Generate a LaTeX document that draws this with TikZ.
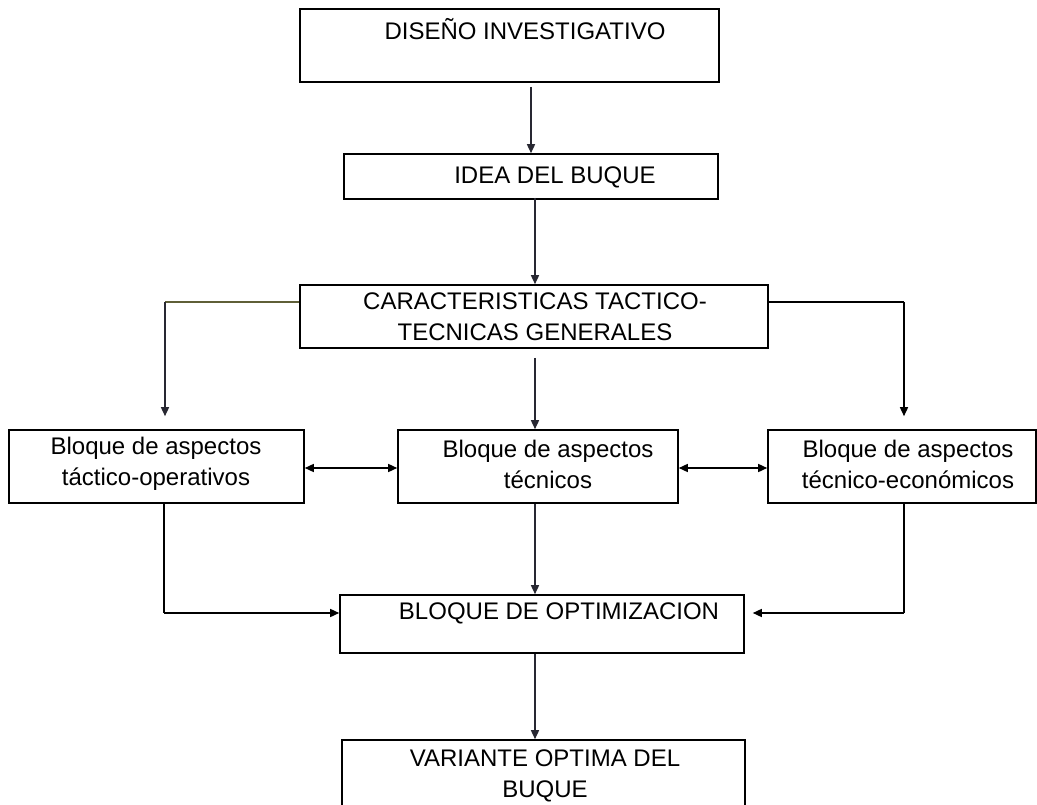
\documentclass[tikz,border=0pt]{standalone}
\usepackage{fontspec}
\setmainfont{Liberation Sans}
\usetikzlibrary{arrows.meta,calc}
\definecolor{olivel}{RGB}{95,95,55}
\definecolor{darkl}{RGB}{40,40,50}
\begin{document}
\begin{tikzpicture}[x=1pt,y=-1pt,
  box/.style={draw=black,line width=1.6pt,inner sep=0pt,fill=white},
  txt/.style={font=\fontsize{24}{31}\selectfont,align=center,inner sep=0pt},
  conn/.style={line width=1.5pt,draw=black},
  arr/.style={conn,-{Triangle[length=9pt,width=8pt]}},
  darr/.style={conn,{Triangle[length=9pt,width=8pt]}-{Triangle[length=9pt,width=8pt]}}]
\clip (0,0) rectangle (1037,805);
\fill[white] (0,0) rectangle (1037,805);
% boxes
\node[box,minimum width=419pt,minimum height=73pt] (d) at (509.5,45.5) {};
\node[box,minimum width=374pt,minimum height=45pt] (idea) at (531,176.5) {};
\node[box,minimum width=468pt,minimum height=63pt] (carac) at (534,316.5) {};
\node[box,minimum width=295pt,minimum height=73pt] (left) at (156.5,466.5) {};
\node[box,minimum width=280pt,minimum height=73pt] (mid) at (538,466.5) {};
\node[box,minimum width=268pt,minimum height=73pt] (right) at (902,466.5) {};
\node[box,minimum width=404pt,minimum height=58pt] (opt) at (542,624) {};
\node[box,minimum width=403pt,minimum height=120pt] (var) at (543.5,800) {};
% texts
\node[txt] (dt) at (525,29) {DISEÑO INVESTIGATIVO};
\node[txt] (ideat) at (555,177) {IDEA DEL BUQUE};
\node[txt] (caract) at (535,317) {CARACTERISTICAS TACTICO-\\TECNICAS GENERALES};
\node[txt] (leftt) at (156,464) {Bloque de aspectos\\táctico-operativos};
\node[txt] (midt) at (548,464) {Bloque de aspectos\\técnicos};
\node[txt] (rightt) at (908,464) {Bloque de aspectos\\técnico-económicos};
\node[txt] (optt) at (559,613) {BLOQUE DE OPTIMIZACION};
\node[txt] (vart) at (545,776) {VARIANTE OPTIMA DEL\\BUQUE};
% helper coordinates
\coordinate (lb) at (165,302);
\coordinate (rb) at (904,302);
\coordinate (lo) at (164,613);
\coordinate (ro) at (904,613);
% connectors
\draw[arr,draw=darkl] ($(d.south)+(21.5,4)$) -- ($(idea.north)+(0,0)$);
\draw[arr,draw=darkl] ($(idea.south)+(4,-2)$) -- (carac.north -| 535,0);
\draw[arr,draw=darkl] ($(carac.south)+(1,9)$) -- (mid.north -| 535,0);
\draw[conn,draw=olivel] (carac.west |- lb) -- (lb);
\draw[arr,draw=darkl,shorten >=13pt] (lb) -- (left.north -| lb);
\draw[conn] (carac.east |- rb) -- (rb);
\draw[arr,shorten >=13pt] (rb) -- (right.north -| rb);
\draw[darr] (left.east |- 0,468) -- (mid.west |- 0,468);
\draw[darr] (mid.east |- 0,468) -- (right.west |- 0,468);
\draw[conn] (left.south -| lo) -- (lo);
\draw[arr] (lo) -- (opt.west |- lo);
\draw[conn] (right.south -| ro) -- (ro);
\draw[arr,shorten >=8pt] (ro) -- (opt.east |- ro);
\draw[arr,draw=darkl] (mid.south -| 535,0) -- (opt.north -| 535,0);
\draw[arr,draw=darkl] (opt.south -| 535,0) -- (var.north -| 535,0);
\end{tikzpicture}
\end{document}
